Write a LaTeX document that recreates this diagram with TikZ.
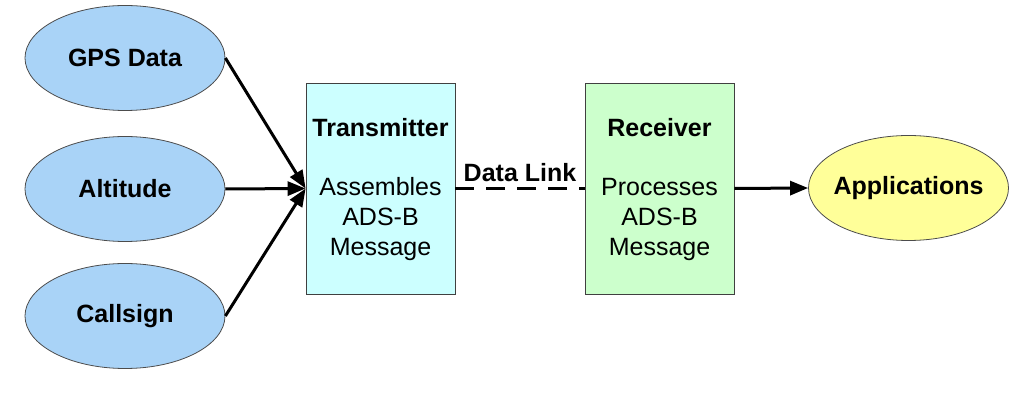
\documentclass[tikz,border=0pt]{standalone}
\usepackage{fontspec}
\setmainfont{Liberation Sans}
\usetikzlibrary{shapes.geometric,arrows.meta}
\definecolor{ellblue}{HTML}{A9D3F7}
\definecolor{txcyan}{HTML}{CCFFFF}
\definecolor{rxgreen}{HTML}{CCFFCC}
\definecolor{appyellow}{HTML}{FFFF99}
\begin{document}
\begin{tikzpicture}[x=1pt,y=1pt,
  src/.style={ellipse,draw=black!70,line width=0.8pt,fill=ellblue,minimum width=200pt,minimum height=105pt,inner sep=0pt,font=\fontsize{25}{30}\selectfont\bfseries},
  boxst/.style={draw=black!75,line width=0.8pt,minimum width=149pt,minimum height=211pt,inner sep=0pt},
  arr/.style={line width=3pt,-{Triangle[length=18pt,width=14pt]}},
  lbl/.style={font=\fontsize{25}{30}\selectfont,align=center}
]
\useasboundingbox (0,0) rectangle (1022,401);
\node[src] (gps) at (125,343) {GPS Data};
\node[src] (alt) at (125,212) {Altitude};
\node[src] (call) at (125,85) {Callsign};
\node[boxst,fill=txcyan] (tx) at (380.5,212.5) {};
\node[boxst,fill=rxgreen] (rx) at (659.5,212.5) {};
\node[src,fill=appyellow,inner xsep=-12pt] (app) at (908.5,213) {Applications};
\node[lbl,font=\fontsize{25}{30}\selectfont\bfseries] (txt) at (380.5,273) {Transmitter};
\node[lbl] (txb) at (380.5,182) {Assembles\\ADS-B\\Message};
\node[lbl,font=\fontsize{25}{30}\selectfont\bfseries] (rxt) at (659.5,273) {Receiver};
\node[lbl] (rxb) at (659.5,182) {Processes\\ADS-B\\Message};
\coordinate (in) at (tx.west);
\draw[arr] (gps.east) -- (in);
\draw[arr] (alt.east) -- (in);
\draw[arr] (call.east) -- (in);
\draw[line width=3.5pt,dash pattern=on 19pt off 12pt] (tx.east) -- node[above=2pt,font=\fontsize{25}{30}\selectfont\bfseries] (dl) {Data Link} (rx.west);
\draw[arr] (rx.east) -- (app.west);
\end{tikzpicture}
\end{document}
